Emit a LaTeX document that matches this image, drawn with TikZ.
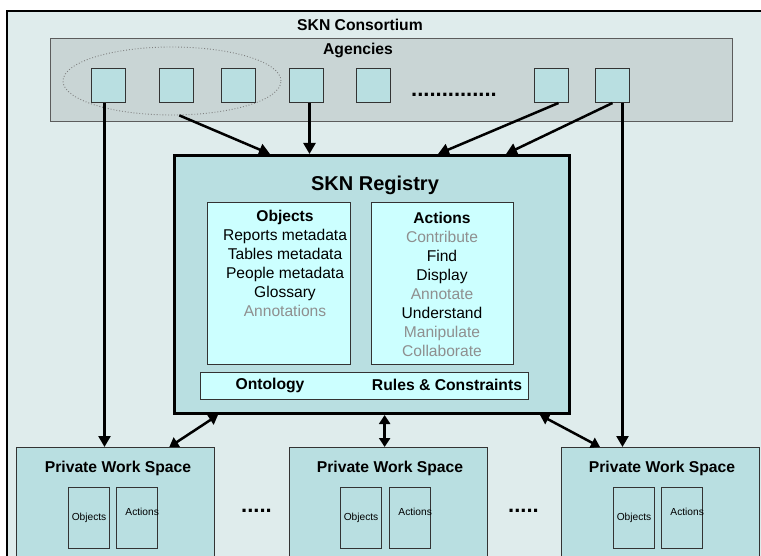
\documentclass[tikz,border=0pt]{standalone}
\usepackage{fontspec}
\setmainfont{Liberation Sans}
\usetikzlibrary{arrows.meta,calc,shapes.geometric}
\definecolor{bgc}{HTML}{DFECEC}
\definecolor{agc}{HTML}{C9D5D5}
\definecolor{sqc}{HTML}{B9DFE1}
\definecolor{inc}{HTML}{CCFFFF}
\definecolor{gtxt}{HTML}{8F8F8F}
\definecolor{edgec}{HTML}{333333}
\tikzset{
  box/.style={draw=edgec, line width=1pt, inner sep=0pt, anchor=north west},
  sq/.style={box, fill=sqc, minimum width=34pt, minimum height=34pt},
  inbox/.style={box, fill=inc},
  pws/.style={box, fill=sqc, line width=1.3pt, minimum width=198pt, minimum height=110pt},
  pin/.style={box, fill=sqc, line width=1.1pt, minimum width=41pt, minimum height=61pt, font=\fontsize{10.2}{12}\selectfont},
  lbl/.style={inner sep=0pt, font=\fontsize{15.7}{19}\selectfont\bfseries},
  body/.style={inner sep=0pt, align=center, font=\fontsize{15.6}{19}\selectfont},
  dots/.style={inner sep=0pt, font=\fontsize{22}{22}\selectfont\bfseries},
  arr/.style={line width=2.5pt, -{Triangle[length=11pt,width=12pt]}},
  darr/.style={line width=2.5pt, {Triangle[length=9pt,width=11pt]}-{Triangle[length=9pt,width=11pt]}},
}
\begin{document}
\begin{tikzpicture}[x=1pt,y=-1pt]
\useasboundingbox (0,0) rectangle (761,556);
\clip (0,0) rectangle (761,556);
\fill[white] (0,0) rectangle (761,556);
\draw[fill=bgc, line width=2.6pt] (7,11) rectangle (790,590);

\node[lbl] (skn) at (360,25) {SKN Consortium};
\node[box, fill=agc, draw=edgec!80, line width=0.8pt, minimum width=682pt, minimum height=83pt] (ag) at (50,38) {};
\node[lbl] (agl) at (358,50) {Agencies};

\node[ellipse, draw=gray, dotted, line width=0.9pt, minimum width=218pt, minimum height=68pt, inner sep=0pt] (e) at (172,81) {};

\node[sq] (a1) at (91,68) {};
\node[sq] (a2) at (159,68) {};
\node[sq] (a3) at (221,68) {};
\node[sq] (a4) at (289,68) {};
\node[sq] (a5) at (356,68) {};
\node[sq] (a6) at (534,68) {};
\node[sq] (a7) at (595,68) {};
\node[dots, anchor=base west] (agdots) at (411,97) {..............};

\node[box, fill=sqc, draw=black, line width=3pt, minimum width=395pt, minimum height=258pt] (reg) at (173,154) {};
\node[inner sep=0pt, font=\fontsize{20}{24}\selectfont\bfseries] (regl) at (375,185) {SKN Registry};

\node[inbox, minimum width=143pt, minimum height=162pt] (obj) at (207,202) {};
\node[inbox, minimum width=142pt, minimum height=162pt] (act) at (371,202) {};
\node[inbox, minimum width=328pt, minimum height=27pt] (ont) at (200,372) {};

\node[body, anchor=north] (objt) at (285,210) {\textbf{Objects}\\Reports metadata\\Tables metadata\\People metadata\\Glossary\\\textcolor{gtxt}{Annotations}};
\node[body, anchor=north] (actt) at (442,212) {\textbf{Actions}\\\textcolor{gtxt}{Contribute}\\Find\\Display\\\textcolor{gtxt}{Annotate}\\Understand\\\textcolor{gtxt}{Manipulate}\\\textcolor{gtxt}{Collaborate}};
\node[lbl] (ontl) at (270,385) {Ontology};
\node[lbl] (rules) at (447,385) {Rules \& Constraints};

\node[pws] (p1) at (16,447) {};
\node[pws] (p2) at (289,447) {};
\node[pws] (p3) at (561,447) {};
\node[lbl] (p1l) at (118,468) {Private Work Space};
\node[lbl] (p2l) at (390,468) {Private Work Space};
\node[lbl] (p3l) at (662,468) {Private Work Space};

\node[pin] (p1o) at (68,487) {Objects};
\node[pin] (p1a) at (116,487) {};
\node[pin] (p2o) at (340,487) {Objects};
\node[pin] (p2a) at (389,487) {};
\node[pin] (p3o) at (613,487) {Objects};
\node[pin] (p3a) at (661,487) {};
\node[anchor=east, inner sep=0pt, font=\fontsize{10.2}{12}\selectfont] (p1at) at ($(p1a.east)+(1,-6.5)$) {Actions};
\node[anchor=east, inner sep=0pt, font=\fontsize{10.2}{12}\selectfont] (p2at) at ($(p2a.east)+(1,-6.5)$) {Actions};
\node[anchor=east, inner sep=0pt, font=\fontsize{10.2}{12}\selectfont] (p3at) at ($(p3a.east)+(1,-6.5)$) {Actions};

\node[dots, anchor=base west] (d1) at (241,512) {.....};
\node[dots, anchor=base west] (d2) at (508,512) {.....};

% connectors
\draw[arr] ([xshift=-4pt]a1.south) -- ([xshift=-4pt]a1.south |- p1.north);
\draw[arr] (e.-78) -- ($(reg.north west)+(97,0)$);
\draw[arr] ([xshift=3pt]a4.south) -- ([xshift=3pt]a4.south |- reg.north);
\draw[arr] ([xshift=7pt]a6.south) -- ($(reg.north west)+(265,0)$);
\draw[arr] (a7.south) -- ($(reg.north west)+(333,0)$);
\draw[arr] ([xshift=10pt]a7.south) -- ([xshift=10pt]a7.south |- p3.north);
\draw[darr] ($(reg.south west)+(45,0)$) -- ($(p1.north east)+(-46,0)$);
\draw[darr] ([xshift=-4pt]p2.north |- reg.south) -- ([xshift=-4pt]p2.north);
\draw[darr] ($(reg.south east)+(-31,0)$) -- ($(p3.north west)+(39,0)$);
\end{tikzpicture}
\end{document}
